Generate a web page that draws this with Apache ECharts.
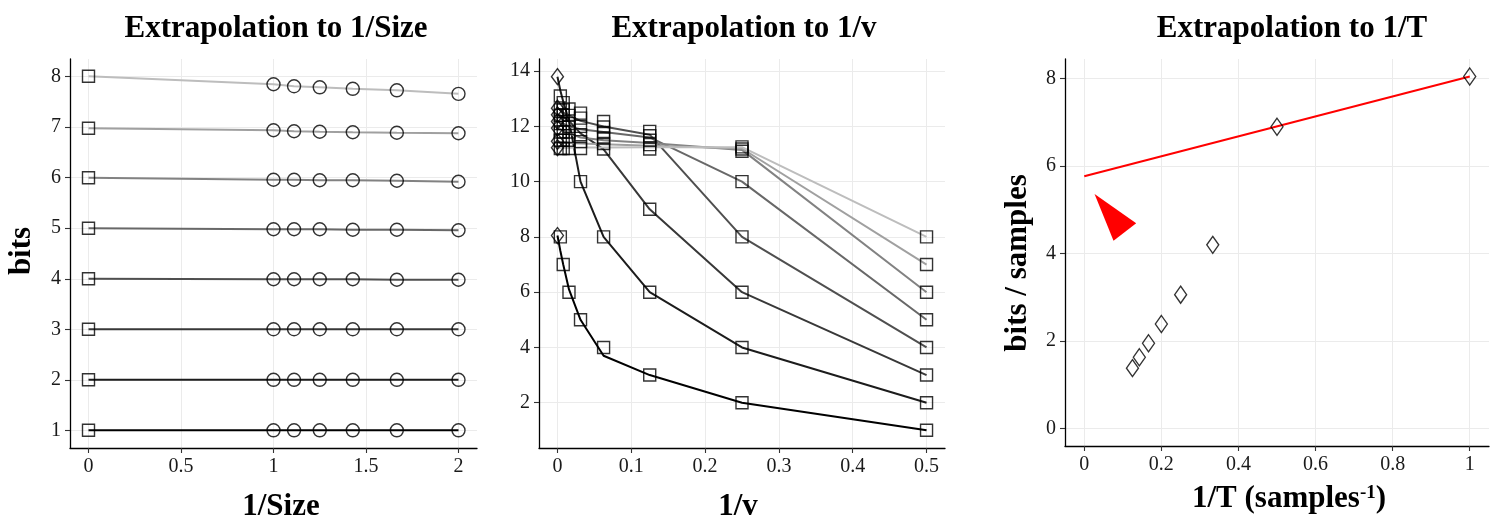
<!DOCTYPE html>
<html>
<head>
<meta charset="utf-8">
<script src="https://cdn.jsdelivr.net/npm/echarts@6/dist/echarts.min.js"></script>
<style>
  html, body { margin: 0; padding: 0; background: #fff; }
  #chart { width: 1499px; height: 525px; }
</style>
</head>
<body>
<div id="chart"></div>
<script>
// ---------- Panel 1: extrapolation to 1/Size ----------
const invSize = [1, 10 / 9, 1.25, 10 / 7, 5 / 3, 2];
const sizeAtZero = [1.0, 2.0, 3.0, 4.0, 5.0, 6.0, 6.98, 8.01];
const sizeBits = [
  [1.0, 1.0, 1.0, 1.0, 1.0, 1.0],
  [2.0, 2.0, 2.0, 2.0, 2.0, 2.0],
  [3.0, 3.0, 3.0, 3.0, 3.0, 3.0],
  [3.99, 3.99, 3.99, 3.99, 3.98, 3.98],
  [4.98, 4.98, 4.98, 4.97, 4.97, 4.96],
  [5.96, 5.96, 5.95, 5.95, 5.94, 5.92],
  [6.94, 6.92, 6.91, 6.90, 6.89, 6.88],
  [7.85, 7.81, 7.79, 7.76, 7.73, 7.66]
];
const sizeXTicks = [0, 0.5, 1, 1.5, 2];
const sizeYTicks = [1, 2, 3, 4, 5, 6, 7, 8];

// ---------- Panel 2: extrapolation to 1/v ----------
const invV = [0, 1 / 256, 1 / 128, 1 / 64, 1 / 32, 1 / 16, 1 / 8, 1 / 4, 1 / 2];
// fitted curves, first value is the extrapolated value at 1/v = 0
const vFit = [
  [8.05, 7.5, 7.0, 6.1, 5.0, 3.7, 3.0, 2.0, 1.0],
  [13.8, 13.3, 12.9, 12.2, 10.0, 8.0, 6.0, 4.0, 2.0],
  [12.42, 12.4, 12.35, 12.2, 11.75, 11.17, 9.0, 6.0, 3.0],
  [12.66, 12.6, 12.5, 12.4, 12.2, 12.0, 11.7, 8.0, 4.0],
  [12.18, 12.15, 12.1, 12.0, 11.9, 11.8, 11.6, 10.0, 5.0],
  [11.94, 11.9, 11.85, 11.75, 11.6, 11.5, 11.4, 11.15, 6.0],
  [11.46, 11.44, 11.42, 11.4, 11.38, 11.35, 11.3, 11.2, 7.0],
  [11.23, 11.23, 11.23, 11.23, 11.24, 11.24, 11.25, 11.25, 8.0]
];
// measured values at 1/v = 1/256 ... 1/2
const vBits = [
  [8, 7, 6, 5, 4, 3, 2, 1],
  [13.1, 12.86, 12.0, 10, 8, 6, 4, 2],
  [12.6, 12.6, 12.63, 12.48, 12.18, 9, 6, 3],
  [12.4, 12.4, 12.4, 12.3, 11.98, 11.82, 8, 4],
  [12.1, 12.1, 12.1, 12.0, 11.78, 11.66, 10, 5],
  [11.8, 11.8, 11.8, 11.7, 11.58, 11.5, 11.26, 6],
  [11.5, 11.5, 11.5, 11.45, 11.38, 11.34, 11.18, 7],
  [11.2, 11.2, 11.2, 11.2, 11.18, 11.18, 11.1, 8]
];
const vXTicks = [0, 0.1, 0.2, 0.3, 0.4, 0.5];
const vYTicks = [2, 4, 6, 8, 10, 12, 14];

// ---------- Panel 3: extrapolation to 1/T ----------
const invT = [1 / 8, 1 / 7, 1 / 6, 1 / 5, 1 / 4, 1 / 3, 1 / 2, 1];
const bitsPerSample = [1.38, 1.63, 1.95, 2.39, 3.06, 4.2, 6.9, 8.05];
const fitTX = [0, 1];
const fitTY = [5.77, 8.05];
const arrowX = [0.0267, 0.1347, 0.0759];
const arrowY = [5.365, 4.695, 4.293];
const tXTicks = [0, 0.2, 0.4, 0.6, 0.8, 1];
const tYTicks = [0, 2, 4, 6, 8];

const FONT = '"Liberation Serif", "DejaVu Serif", serif';
const greys = ['#000000', '#1c1c1c', '#383838', '#4f4f4f', '#686868', '#828282', '#a0a0a0', '#bdbdbd'];

const fmt = v => String(+(+v).toFixed(3));

function valAxis(gridIndex, min, max, ticks, extra) {
  return Object.assign({
    type: 'value',
    gridIndex: gridIndex,
    min: min,
    max: max,
    axisLine: { show: true, onZero: false, lineStyle: { color: '#000', width: 1.3 } },
    axisTick: { show: true, length: 5, customValues: ticks, lineStyle: { color: '#333', width: 1.1 } },
    axisLabel: { customValues: ticks, color: '#1a1a1a', fontFamily: FONT, fontSize: 20, margin: 9, formatter: fmt },
    splitLine: { show: true, lineStyle: { color: '#ebebeb', width: 1 } }
  }, extra || {});
}

const hollow = { color: 'rgba(0,0,0,0)', borderColor: '#000', borderWidth: 1.4 };
const series = [];

// panel 1
sizeBits.forEach((row, k) => {
  const pts = [[0, sizeAtZero[k]]].concat(invSize.map((x, i) => [x, row[i]]));
  series.push({
    type: 'line', xAxisIndex: 0, yAxisIndex: 0, data: pts, symbol: 'none',
    lineStyle: { color: greys[k], width: 2 }, z: 2
  });
});
series.push({
  type: 'scatter', xAxisIndex: 0, yAxisIndex: 0, symbol: 'rect', symbolSize: 12,
  itemStyle: hollow, z: 5,
  data: sizeAtZero.map(v => [0, v])
});
series.push({
  type: 'scatter', xAxisIndex: 0, yAxisIndex: 0, symbol: 'circle', symbolSize: 13,
  itemStyle: hollow, z: 5,
  data: [].concat(...sizeBits.map(row => invSize.map((x, i) => [x, row[i]])))
});

// panel 2
vFit.forEach((row, k) => {
  series.push({
    type: 'line', xAxisIndex: 1, yAxisIndex: 1, data: invV.map((x, i) => [x, row[i]]), symbol: 'none',
    lineStyle: { color: greys[k], width: 2 }, z: 2
  });
});
series.push({
  type: 'scatter', xAxisIndex: 1, yAxisIndex: 1, symbol: 'rect', symbolSize: 12,
  itemStyle: hollow, z: 5,
  data: [].concat(...vBits.map(row => row.map((v, i) => [invV[i + 1], v])))
});
series.push({
  type: 'scatter', xAxisIndex: 1, yAxisIndex: 1, symbol: 'diamond', symbolSize: [12, 16],
  itemStyle: hollow, z: 6,
  data: vFit.map(row => [0, row[0]])
});

// panel 3
series.push({
  type: 'line', xAxisIndex: 2, yAxisIndex: 2, symbol: 'none',
  data: fitTX.map((x, i) => [x, fitTY[i]]),
  lineStyle: { color: '#ff0000', width: 2 }, z: 2
});
series.push({
  type: 'scatter', xAxisIndex: 2, yAxisIndex: 2, symbol: 'diamond', symbolSize: [12, 17],
  itemStyle: hollow, z: 5,
  data: invT.map((x, i) => [x, bitsPerSample[i]])
});
series.push({
  type: 'custom', xAxisIndex: 2, yAxisIndex: 2, z: 4,
  data: [[arrowX[0], arrowY[0]]],
  renderItem: function (params, api) {
    const pts = arrowX.map((x, i) => api.coord([x, arrowY[i]]));
    return { type: 'polygon', shape: { points: pts }, style: { fill: '#ff0000' } };
  }
});

const titleFont = 'bold 31px ' + FONT;
function label(text, x, y, rot) {
  return {
    type: 'text', x: x, y: y, rotation: rot || 0,
    style: {
      text: text, font: titleFont, fill: '#000',
      textAlign: 'center', textVerticalAlign: 'middle', align: 'center', verticalAlign: 'middle'
    }
  };
}

const option = {
  animation: false,
  backgroundColor: '#fff',
  grid: [
    { left: 70, top: 59, width: 407, height: 389 },
    { left: 539, top: 59, width: 406, height: 389 },
    { left: 1065, top: 59, width: 424, height: 387 }
  ],
  xAxis: [
    valAxis(0, -0.1, 2.1, sizeXTicks),
    valAxis(1, -0.025, 0.525, vXTicks),
    valAxis(2, -0.05, 1.05, tXTicks)
  ],
  yAxis: [
    valAxis(0, 0.65, 8.35, sizeYTicks),
    valAxis(1, 0.36, 14.44, vYTicks),
    valAxis(2, -0.4, 8.45, tYTicks)
  ],
  series: series,
  graphic: [
    label('Extrapolation to 1/Size', 276, 29),
    label('Extrapolation to 1/v', 744, 29),
    label('Extrapolation to 1/T', 1292, 29),
    label('1/Size', 281, 507),
    label('1/v', 738, 507),
    label('bits', 22, 251, Math.PI / 2),
    label('bits / samples', 1018, 263, Math.PI / 2),
    {
      type: 'text', x: 1289, y: 499,
      style: {
        text: '{m|1/T (samples}{s|-1}{m|)}',
        textAlign: 'center', textVerticalAlign: 'middle', align: 'center', verticalAlign: 'middle',
        rich: {
          m: { font: titleFont, fill: '#000', verticalAlign: 'bottom' },
          s: { font: 'bold 19px ' + FONT, fill: '#000', verticalAlign: 'top' }
        }
      }
    }
  ]
};

const chart = echarts.init(document.getElementById('chart'), null, { renderer: 'canvas' });
chart.setOption(option);
</script>
</body>
</html>
